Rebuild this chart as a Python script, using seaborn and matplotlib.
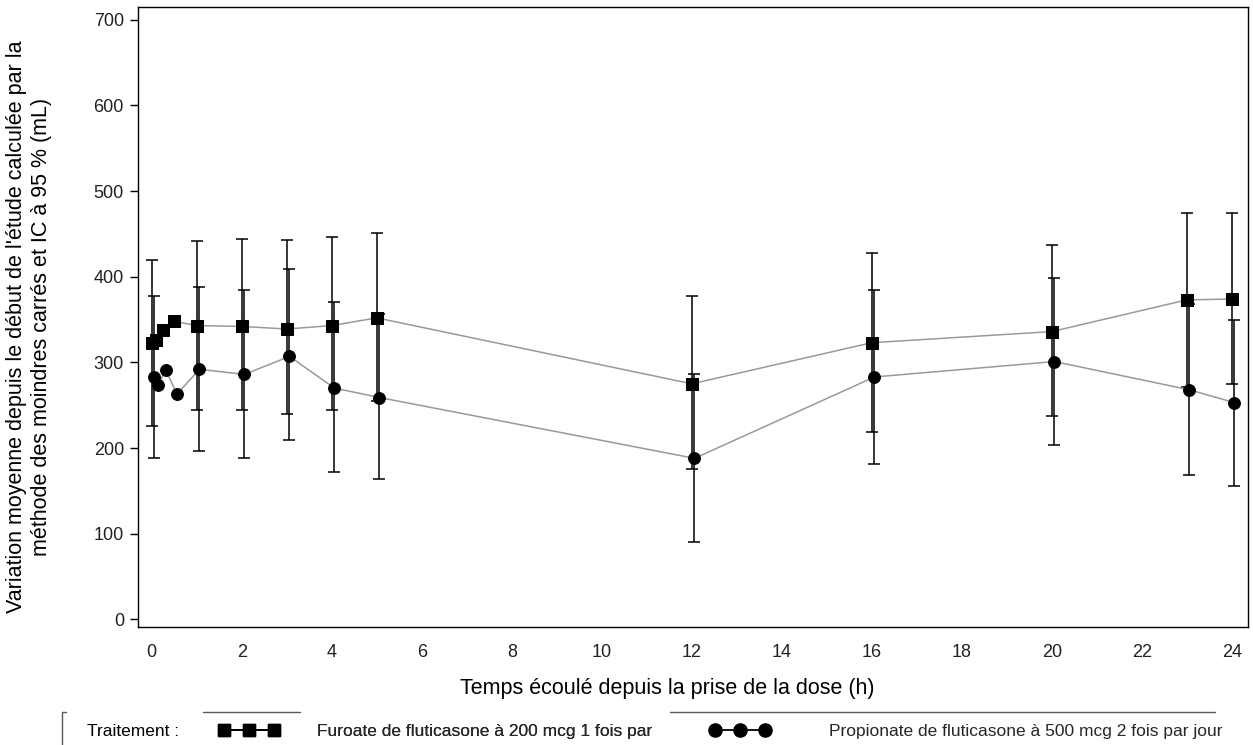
import numpy as np
import pandas as pd
import matplotlib
matplotlib.use('Agg')
import matplotlib.pyplot as plt
import seaborn as sns
from matplotlib.lines import Line2D

# données ================================================================
temps = [0, 0.083, 0.25, 0.5, 1, 2, 3, 4, 5, 12, 16, 20, 23, 24]

# Furoate de fluticasone 200 mcg (carrés)
ff_moy = [323, 326, 338, 348, 343, 342, 339, 343, 352, 275, 323, 336, 373, 374]
ff_bas = [226, np.nan, np.nan, np.nan, 245, 244, 240, 244, 255, 175, 219, 237, 271, 275]
ff_haut = [419, np.nan, np.nan, np.nan, 442, 444, 443, 446, 451, 377, 428, 437, 474, 474]

# Propionate de fluticasone 500 mcg (ronds)
fp_moy = [283, 274, 291, 263, 292, 286, 307, 270, 259, 188, 283, 301, 268, 253]
fp_bas = [188, np.nan, np.nan, np.nan, 196, 188, 209, 172, 164, 90, 181, 203, 168, 156]
fp_haut = [377, np.nan, np.nan, np.nan, 388, 385, 409, 370, 357, 286, 384, 399, 368, 350]

x_ticks = list(range(0, 25, 2))
y_ticks = list(range(0, 701, 100))

lab_ff = 'Furoate de fluticasone à 200 mcg 1 fois par'
lab_fp = 'Propionate de fluticasone à 500 mcg 2 fois par jour'

# style =================================================================
sns.set_style('ticks')
plt.rcParams['font.family'] = ['Liberation Sans', 'DejaVu Sans']

fig = plt.figure(figsize=(12.53, 7.45), dpi=100)
ax = fig.add_axes([0.110, 0.158, 0.886, 0.8326])

decal = 0.06  # petit décalage horizontal des ronds

df = pd.DataFrame({
    'temps': temps * 2,
    'x': list(np.array(temps)) + list(np.array(temps) + decal),
    'moy': ff_moy + fp_moy,
    'bas': ff_bas + fp_bas,
    'haut': ff_haut + fp_haut,
    'trt': [lab_ff] * len(temps) + [lab_fp] * len(temps),
})

marqueurs = {lab_ff: 's', lab_fp: 'o'}

for trt, g in df.groupby('trt', sort=False):
    sns.lineplot(data=g, x='x', y='moy', ax=ax, color='0.6', lw=1.1,
                 marker=marqueurs[trt], markersize=8.5,
                 markerfacecolor='black', markeredgecolor='black', zorder=3)
    gg = g[g['bas'].notna()]
    ax.errorbar(gg['x'], gg['moy'],
                yerr=[gg['moy'] - gg['bas'], gg['haut'] - gg['moy']],
                fmt='none', ecolor='black', elinewidth=1.1, capsize=4,
                capthick=1.1, zorder=2)

ax.set_xlim(-0.31, 24.36)
ax.set_ylim(-9.3, 715)
ax.set_xticks(x_ticks)
ax.set_yticks(y_ticks)
ax.tick_params(axis='y', labelsize=13, length=6, width=1, color='black',
               labelcolor='#222222', pad=4)
ax.tick_params(axis='x', labelsize=13, length=0, labelcolor='#222222', pad=12)
for s in ax.spines.values():
    s.set_visible(True)
    s.set_linewidth(1)
    s.set_color('black')

ax.set_xlabel('Temps écoulé depuis la prise de la dose (h)', fontsize=15.5, color='black')
ax.set_ylabel("Variation moyenne depuis le début de l'étude calculée par la\n"
              "méthode des moindres carrés et IC à 95 % (mL)",
              fontsize=15.5, color='black', linespacing=1.25)
ax.xaxis.set_label_coords(0.477, -0.081)
ax.yaxis.set_label_coords(-0.0775, 0.485)

# légende en bas =========================================================
y_leg = 1 - 731 / 745
fig.text(87 / 1253, y_leg, 'Traitement :', fontsize=12.5,
         ha='left', va='center', color='black')

h_ff = Line2D([], [], color='black', lw=1.3, marker='s', markersize=9)
h_fp = Line2D([], [], color='black', lw=1.3, marker='o', markersize=9.5)
common = dict(loc='center left', frameon=False, numpoints=3, fontsize=12.5,
              handlelength=3.45, borderpad=0, borderaxespad=0)
leg1 = fig.legend([h_ff], [lab_ff], bbox_to_anchor=(219 / 1253, y_leg),
                  handletextpad=2.2, **common)
fig.legend([h_fp], [lab_fp], bbox_to_anchor=(710 / 1253, y_leg),
           handletextpad=3.4, **common)
fig.add_artist(leg1)

# traits gris et crochet du cadre de légende
for x0, x1 in [(203, 300), (670, 1215)]:
    fig.add_artist(Line2D([x0 / 1253, x1 / 1253], [1 - 712 / 745] * 2,
                          transform=fig.transFigure, color='0.35', lw=1))
fig.add_artist(Line2D([62 / 1253, 62 / 1253, 66 / 1253],
                      [0, 1 - 712 / 745, 1 - 712 / 745],
                      transform=fig.transFigure, color='0.35', lw=1))

fig.savefig('out.png', dpi=100)
